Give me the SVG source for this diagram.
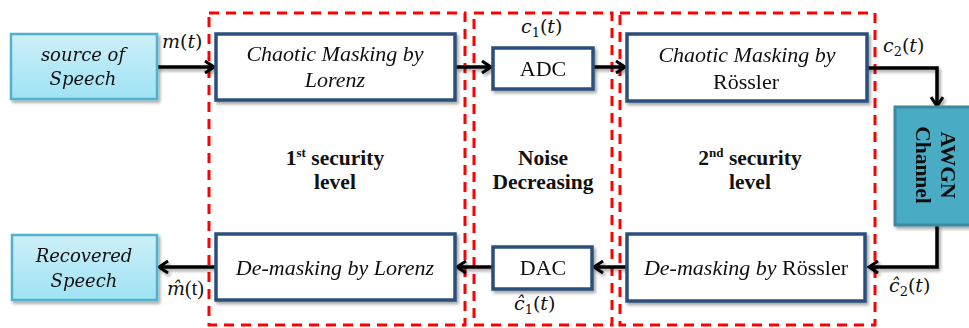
<svg xmlns="http://www.w3.org/2000/svg" width="969" height="328" viewBox="0 0 969 328">
<defs>
  <linearGradient id="cyan" x1="0" y1="0" x2="0" y2="1">
    <stop offset="0" stop-color="#cdeff8"/>
    <stop offset="1" stop-color="#9fe3f5"/>
  </linearGradient>
  <filter id="sh" x="-10%" y="-10%" width="130%" height="140%">
    <feDropShadow dx="2" dy="2.5" stdDeviation="1.5" flood-color="#000" flood-opacity="0.35"/>
  </filter>
  <marker id="arr" markerWidth="14" markerHeight="14" refX="11" refY="7" orient="auto" markerUnits="userSpaceOnUse">
    <path d="M2,1 L11,7 L2,13" fill="none" stroke="#000" stroke-width="3" stroke-linejoin="miter"/>
  </marker>
  <style>
    .blk{fill:#fff;stroke:#2c4f7c;stroke-width:3.5}
    .src{fill:url(#cyan);stroke:#4fb3cf;stroke-width:2.5}
    .reg{fill:none;stroke:#ff0000;stroke-width:3;stroke-dasharray:10 7}
    .it{font-family:"Liberation Serif",serif;font-style:italic;font-size:22px;fill:#111;text-anchor:middle}
    .cm{font-family:"DejaVu Serif",serif;font-style:italic;font-size:18px;fill:#111;text-anchor:middle}
    .rm{font-family:"Liberation Serif",serif;font-size:22px;fill:#111;text-anchor:middle}
    .bd{font-family:"Liberation Serif",serif;font-weight:bold;font-size:21.5px;fill:#111;text-anchor:middle}
    .mt{font-family:"DejaVu Serif",serif;font-style:italic;font-size:19px;fill:#111}
    .ln{fill:none;stroke:#000;stroke-width:3.5}
  </style>
</defs>

<g id="regions">
  <rect class="reg" x="209" y="13" width="256" height="312"/>
  <rect class="reg" x="474" y="13" width="138" height="312"/>
  <rect class="reg" x="620" y="13" width="255" height="312"/>
</g>

<g id="connectors" filter="url(#sh)">
  <line class="ln" x1="157" y1="67" x2="214" y2="67" marker-end="url(#arr)"/>
  <line class="ln" x1="455" y1="67" x2="491" y2="67" marker-end="url(#arr)"/>
  <line class="ln" x1="593" y1="67" x2="625" y2="67" marker-end="url(#arr)"/>
  <polyline class="ln" points="867,68 937,68 937,106" marker-end="url(#arr)"/>
  <polyline class="ln" points="937,225 937,267 869,267" marker-end="url(#arr)"/>
  <line class="ln" x1="627" y1="267" x2="594" y2="267" marker-end="url(#arr)"/>
  <line class="ln" x1="493" y1="267" x2="457" y2="267" marker-end="url(#arr)"/>
  <line class="ln" x1="216" y1="267" x2="159" y2="267" marker-end="url(#arr)"/>
</g>

<g id="source" filter="url(#sh)">
  <rect class="src" x="11" y="34" width="146" height="65"/>
  <text class="cm" x="83" y="61">source of</text>
  <text class="cm" x="83" y="85">Speech</text>
</g>

<g id="chaotic-lorenz" filter="url(#sh)">
  <rect class="blk" x="216" y="34" width="239" height="66"/>
  <text class="it" x="335" y="61">Chaotic Masking by</text>
  <text class="it" x="335" y="87">Lorenz</text>
</g>

<g id="adc" filter="url(#sh)">
  <rect class="blk" x="493" y="48" width="100" height="41"/>
  <text class="rm" x="543" y="76">ADC</text>
</g>

<g id="chaotic-rossler" filter="url(#sh)">
  <rect class="blk" x="627" y="34" width="240" height="67"/>
  <text class="it" x="747" y="62">Chaotic Masking by</text>
  <text class="rm" x="746" y="89">Rössler</text>
</g>

<g id="awgn" filter="url(#sh)">
  <rect x="895" y="107" width="80" height="118" fill="#4aabc4" stroke="#3a8aa0" stroke-width="3"/>
  <g transform="translate(935,165) rotate(90)">
    <text class="bd" x="0" y="-6" font-size="21">AWGN</text>
    <text class="bd" x="0" y="19" font-size="21">Channel</text>
  </g>
</g>

<g id="demask-rossler" filter="url(#sh)">
  <rect class="blk" x="627" y="234" width="238" height="67"/>
  <text x="746" y="275" class="rm"><tspan font-style="italic">De-masking by</tspan> Rössler</text>
</g>

<g id="dac" filter="url(#sh)">
  <rect class="blk" x="493" y="247" width="99" height="42"/>
  <text class="rm" x="543" y="275">DAC</text>
</g>

<g id="demask-lorenz" filter="url(#sh)">
  <rect class="blk" x="216" y="234" width="239" height="66"/>
  <text class="it" x="335" y="275">De-masking by Lorenz</text>
</g>

<g id="recovered" filter="url(#sh)">
  <rect class="src" x="12" y="235" width="145" height="65"/>
  <text class="cm" x="84" y="262">Recovered</text>
  <text class="cm" x="84" y="287">Speech</text>
</g>

<g id="labels">
  <text class="mt" x="162" y="48">m<tspan font-style="normal">(</tspan>t<tspan font-style="normal">)</tspan></text>
  <text class="mt" x="521" y="33">c<tspan font-size="13" font-style="normal" dy="4">1</tspan><tspan font-style="normal" dy="-4">(</tspan>t<tspan font-style="normal">)</tspan></text>
  <text class="mt" x="883" y="52">c<tspan font-size="13" font-style="normal" dy="4">2</tspan><tspan font-style="normal" dy="-4">(</tspan>t<tspan font-style="normal">)</tspan></text>
  <text class="mt" x="167" y="295">m̂<tspan font-family="Liberation Serif" font-style="normal" font-size="20">(t)</tspan></text>
  <text class="mt" x="514" y="310">ĉ<tspan font-size="13" font-style="normal" dy="4">1</tspan><tspan font-style="normal" dy="-4">(</tspan>t<tspan font-style="normal">)</tspan></text>
  <text class="mt" x="889" y="292">ĉ<tspan font-size="13" font-style="normal" dy="4">2</tspan><tspan font-style="normal" dy="-4">(</tspan>t<tspan font-style="normal">)</tspan></text>

  <text class="bd" x="335" y="165">1<tspan font-size="13" dy="-8">st</tspan><tspan dy="8"> security</tspan></text>
  <text class="bd" x="335" y="189">level</text>
  <text class="bd" x="543" y="165">Noise</text>
  <text class="bd" x="543" y="189">Decreasing</text>
  <text class="bd" x="750" y="165">2<tspan font-size="13" dy="-8">nd</tspan><tspan dy="8"> security</tspan></text>
  <text class="bd" x="750" y="189">level</text>
</g>
</svg>
